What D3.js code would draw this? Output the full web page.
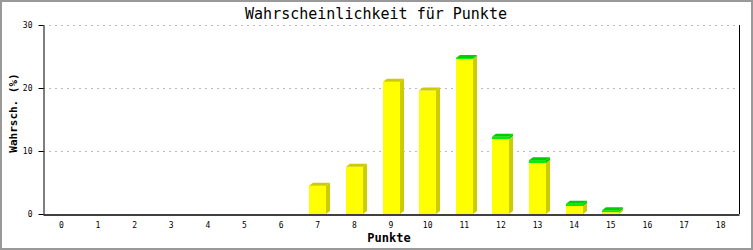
<!DOCTYPE html>
<html>
<head>
<meta charset="utf-8">
<script src="https://cdn.jsdelivr.net/npm/d3@7"></script>
<style>
  body { margin: 0; background: #fff; }
  svg { display: block; }
</style>
</head>
<body>
<svg width="753" height="250"></svg>
<script>
var punkte = d3.range(0, 19);
// lower (yellow) part and upper (green) part of each stacked bar, in %
var gelb  = [0, 0, 0, 0, 0, 0, 0, 4.5, 7.5, 21.0, 19.6, 24.6, 11.9, 8.1, 1.27, 0.3, 0, 0, 0];
var gruen = [0, 0, 0, 0, 0, 0, 0, 0, 0, 0, 0, 0.15, 0.35, 0.45, 0.36, 0.3, 0, 0, 0];
var yTicks = [0, 10, 20, 30];

var W = 753, H = 250;
var plotL = 43, plotR = 739, plotT = 25, plotB = 214;
var barw = 17, dx = 4, dy = 3;

var svg = d3.select('svg');

svg.append('rect')
  .attr('x', 1).attr('y', 1)
  .attr('width', W - 2).attr('height', H - 2)
  .attr('fill', '#fff')
  .attr('stroke', '#999')
  .attr('stroke-width', 2);

var x = d3.scaleBand().domain(punkte).range([plotL, plotR]).padding(0);
var y = d3.scaleLinear().domain([0, 30]).range([plotB, plotT]);

// grid
svg.append('g').selectAll('line')
  .data(yTicks.filter(function(d) { return d > 0; }))
  .enter().append('line')
  .attr('x1', plotL).attr('x2', plotR)
  .attr('y1', function(d) { return y(d) + 0.5; })
  .attr('y2', function(d) { return y(d) + 0.5; })
  .attr('stroke', '#bbb')
  .attr('stroke-dasharray', '2,4');

// bars
var series = [
  { vals: gelb,  front: '#ffff00', dark: '#cccc00' },
  { vals: gruen, front: '#00ee00', dark: '#00cc00' }
];

var bars = svg.append('g');
punkte.forEach(function(p, i) {
  var total = gelb[i] + gruen[i];
  if (total <= 0) return;
  var x0 = Math.round(x(p) + x.bandwidth() / 2 - barw / 2);
  var x1 = x0 + barw;
  var base = 0;
  series.forEach(function(s) {
    var v = s.vals[i];
    if (v <= 0) return;
    var yb = y(base), yt = y(base + v);
    bars.append('polygon')
      .attr('points', [[x1, yb], [x1 + dx, yb - dy], [x1 + dx, yt - dy], [x1, yt]].join(' '))
      .attr('fill', s.dark);
    bars.append('rect')
      .attr('x', x0).attr('y', yt)
      .attr('width', barw).attr('height', yb - yt)
      .attr('fill', s.front);
    base += v;
  });
  // top face gets the colour of the uppermost part
  var topS = gruen[i] > 0 ? series[1] : series[0];
  var yt = y(total);
  bars.append('polygon')
    .attr('points', [[x0, yt], [x0 + dx, yt - dy], [x1 + dx, yt - dy], [x1, yt]].join(' '))
    .attr('fill', topS.dark);
});

// axes
var yAxis = d3.axisLeft(y).tickValues(yTicks).tickSize(5).tickSizeOuter(0).tickPadding(6);
var gy = svg.append('g').attr('transform', 'translate(' + (plotL + 0.5) + ',0)').call(yAxis);
gy.select('.domain').attr('stroke', '#000');
gy.selectAll('text')
  .attr('font-family', 'DejaVu Sans Mono, monospace')
  .attr('font-size', 8)
  .attr('fill', '#000');

svg.append('line')
  .attr('x1', plotR + 0.5).attr('x2', plotR + 0.5)
  .attr('y1', plotT).attr('y2', plotB)
  .attr('stroke', '#000');

var xAxis = d3.axisBottom(x).tickSize(0).tickPadding(8);
var gx = svg.append('g').attr('transform', 'translate(0,' + (plotB + 0.5) + ')').call(xAxis);
gx.select('.domain').attr('stroke', '#000').attr('stroke-width', 1.5);
gx.selectAll('text')
  .attr('font-family', 'DejaVu Sans Mono, monospace')
  .attr('font-size', 8)
  .attr('fill', '#000');

// titles
svg.append('text')
  .attr('x', 376).attr('y', 19)
  .attr('text-anchor', 'middle')
  .attr('font-family', 'DejaVu Sans Mono, monospace')
  .attr('font-size', 15)
  .text('Wahrscheinlichkeit für Punkte');

svg.append('text')
  .attr('x', 389).attr('y', 242)
  .attr('text-anchor', 'middle')
  .attr('font-family', 'DejaVu Sans Mono, monospace')
  .attr('font-weight', 'bold')
  .attr('font-size', 12)
  .text('Punkte');

svg.append('text')
  .attr('transform', 'translate(17,113) rotate(-90)')
  .attr('text-anchor', 'middle')
  .attr('font-family', 'DejaVu Sans Mono, monospace')
  .attr('font-weight', 'bold')
  .attr('font-size', 11)
  .text('Wahrsch. (%)');
</script>
</body>
</html>
